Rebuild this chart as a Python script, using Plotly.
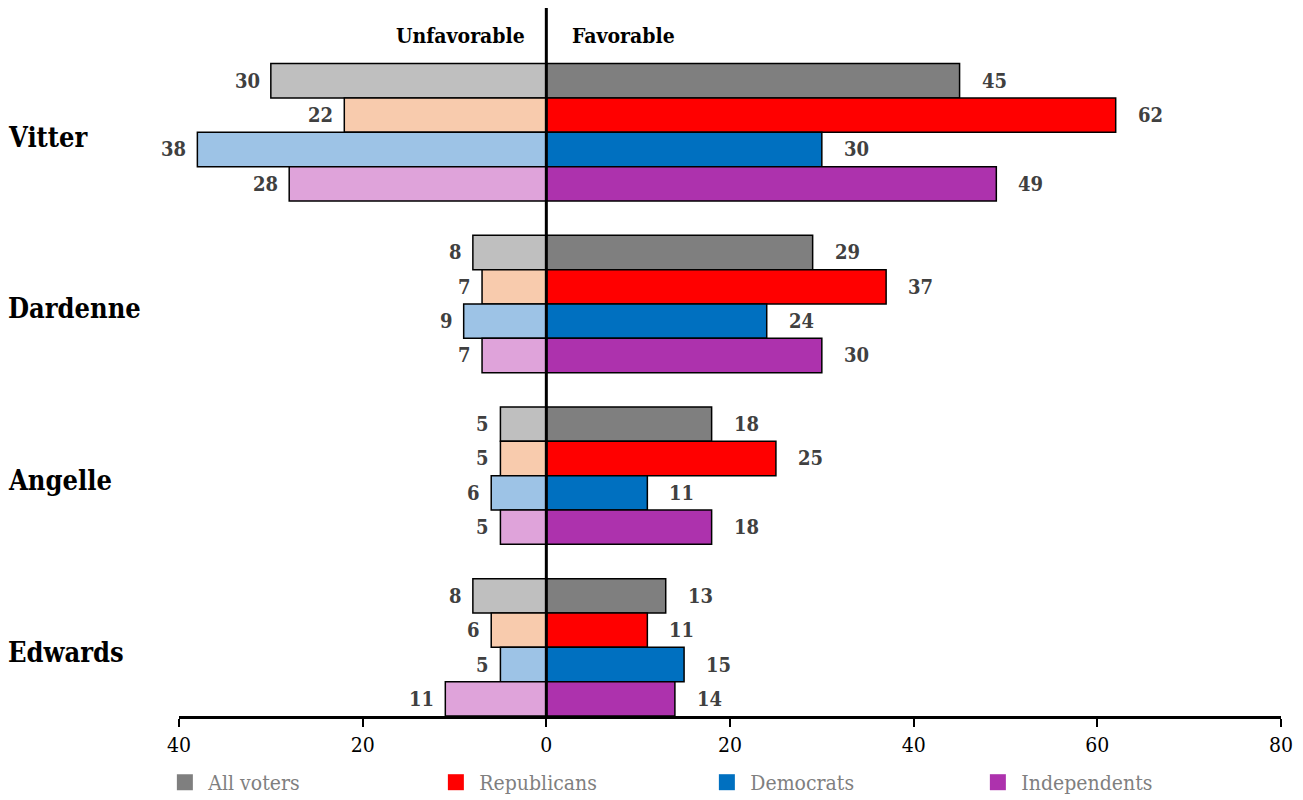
import plotly.graph_objects as go

# Survey results: share of voters with a favorable / unfavorable view
candidates = ["Vitter", "Dardenne", "Angelle", "Edwards"]
groups = ["All voters", "Republicans", "Democrats", "Independents"]

favorable = {
    "All voters":   [45, 29, 18, 13],
    "Republicans":  [62, 37, 25, 11],
    "Democrats":    [30, 24, 11, 15],
    "Independents": [49, 30, 18, 14],
}
unfavorable = {
    "All voters":   [30, 8, 5, 8],
    "Republicans":  [22, 7, 5, 6],
    "Democrats":    [38, 9, 6, 5],
    "Independents": [28, 7, 5, 11],
}

fav_colors = {"All voters": "#7F7F7F", "Republicans": "#FF0000",
              "Democrats": "#0070C0", "Independents": "#AD32AD"}
unfav_colors = {"All voters": "#BFBFBF", "Republicans": "#F8CBAD",
                "Democrats": "#9DC3E6", "Independents": "#DFA3DA"}

x_ticks = [-40, -20, 0, 20, 40, 60, 80]

SERIF = "DejaVu Serif Condensed, Liberation Serif, serif"
LABEL_COLOR = "#404040"

# each candidate gets a block of four rows, separated by one empty row
def row(ci, gi):
    return ci * 5 + gi

fig = go.Figure()
annotations = []

for gi, g in enumerate(groups):
    ys = [row(ci, gi) for ci in range(len(candidates))]
    neg = [-v for v in unfavorable[g]]
    fig.add_trace(go.Bar(
        y=ys, x=neg, base=0, orientation="h", width=1,
        marker=dict(color=unfav_colors[g], line=dict(color="black", width=1.5)),
        showlegend=False, hoverinfo="skip"))
    fig.add_trace(go.Bar(
        y=ys, x=favorable[g], base=0, orientation="h", width=1,
        marker=dict(color=fav_colors[g], line=dict(color="black", width=1.5)),
        showlegend=False, hoverinfo="skip"))
    # legend entry
    fig.add_trace(go.Scatter(
        x=[None], y=[None], mode="markers", name=g,
        marker=dict(symbol="square", size=16, color=fav_colors[g])))
    for ci in range(len(candidates)):
        annotations.append(dict(
            x=favorable[g][ci], y=row(ci, gi), xref="x", yref="y",
            text="<b>%d</b>" % favorable[g][ci], showarrow=False, xanchor="left",
            xshift=20, font=dict(family=SERIF, size=20, color=LABEL_COLOR)))
        annotations.append(dict(
            x=-unfavorable[g][ci], y=row(ci, gi), xref="x", yref="y",
            text="<b>%d</b>" % unfavorable[g][ci], showarrow=False, xanchor="right",
            xshift=-9, font=dict(family=SERIF, size=20, color=LABEL_COLOR)))

# candidate names at the far left
for ci, name in enumerate(candidates):
    annotations.append(dict(
        x=-0.157, xref="paper", y=row(ci, 1.5), yref="y", text="<b>%s</b>" % name,
        showarrow=False, xanchor="left", yshift=-5,
        font=dict(family=SERIF, size=27, color="black")))

# side headers
annotations.append(dict(x=0, y=-1.31, xref="x", yref="y", text="<b>Unfavorable</b>",
                        showarrow=False, xanchor="right", xshift=-19,
                        font=dict(family=SERIF, size=21, color="black")))
annotations.append(dict(x=0, y=-1.31, xref="x", yref="y", text="<b>Favorable</b>",
                        showarrow=False, xanchor="left", xshift=24,
                        font=dict(family=SERIF, size=21, color="black")))

fig.update_layout(
    width=1303, height=800,
    margin=dict(l=179, r=22, t=8, b=84, autoexpand=False),
    plot_bgcolor="white", paper_bgcolor="white",
    barmode="overlay",
    annotations=annotations,
    shapes=[dict(type="line", xref="x", yref="paper", x0=0, x1=0, y0=0, y1=1,
                 line=dict(color="black", width=3))],
    xaxis=dict(range=[-40, 80], tickvals=x_ticks,
               ticktext=[str(abs(v)) for v in x_ticks],
               showgrid=False, zeroline=False,
               showline=True, linecolor="black", linewidth=3,
               ticks="outside", ticklen=8, tickwidth=2, tickcolor="black",
               tickfont=dict(family=SERIF, size=21, color="black")),
    yaxis=dict(range=[18.5, -2.12], showticklabels=False, showgrid=False,
               zeroline=False, showline=False, ticks=""),
    legend=dict(orientation="h", x=-0.016, xanchor="left",
                y=-0.094, yanchor="middle",
                entrywidth=219, entrywidthmode="pixels", itemwidth=37,
                font=dict(family=SERIF, size=21, color="#7F7F7F"),
                bgcolor="rgba(0,0,0,0)"),
)

fig.write_html("out.html")
